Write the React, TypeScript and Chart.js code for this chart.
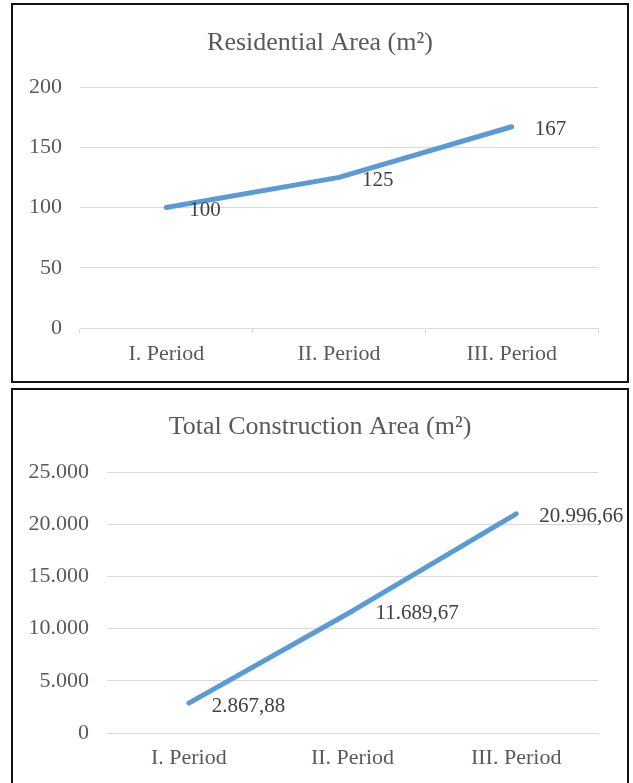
import React, { useEffect, useRef } from "react";
import { Chart, registerables } from "chart.js";

Chart.register(...registerables);

const periods = ["I. Period", "II. Period", "III. Period"];
const residentialArea = [100, 125, 167];
const residentialLabels = ["100", "125", "167"];
const constructionArea = [2867.88, 11689.67, 20996.66];
const constructionLabels = ["2.867,88", "11.689,67", "20.996,66"];

const FONT = "'Liberation Serif', 'Times New Roman', serif";
const LINE_COLOR = "#5B9BD5";
const GRID_COLOR = "#D9D9D9";
const TEXT_COLOR = "#595959";

// Writes each point's value to the right of the marker.
const valueLabels = {
  id: "valueLabels",
  afterDatasetsDraw(chart: any, _args: any, opts: any) {
    const { ctx } = chart;
    const meta = chart.getDatasetMeta(0);
    const labels: string[] = opts.labels || [];
    ctx.save();
    ctx.font = `21px ${FONT}`;
    ctx.fillStyle = "#404040";
    ctx.textAlign = "left";
    ctx.textBaseline = "middle";
    meta.data.forEach((pt: any, i: number) => {
      ctx.fillText(labels[i], pt.x + (opts.dx ?? 23), pt.y + (opts.dy ?? 2));
    });
    ctx.restore();
  },
};

// Chart heading centred across the whole canvas width.
const centeredTitle = {
  id: "centeredTitle",
  afterDraw(chart: any, _args: any, opts: any) {
    const { ctx, width } = chart;
    ctx.save();
    ctx.font = `26px ${FONT}`;
    ctx.fillStyle = TEXT_COLOR;
    ctx.textAlign = "center";
    ctx.textBaseline = "middle";
    ctx.fillText(opts.text, width / 2, opts.y);
    ctx.restore();
  },
};

type PanelProps = {
  title: string;
  titleY: number;
  values: number[];
  labels: string[];
  yMax: number;
  yStep: number;
  formatTick: (v: number) => string;
  width: number;
  height: number;
  plotTop: number;
  plotRight: number;
  yAxisWidth: number;
  xAxisHeight: number;
  xTickMarks: boolean;
  xLabelPad: number;
};

function LinePanel(p: PanelProps) {
  const ref = useRef<HTMLCanvasElement>(null);
  useEffect(() => {
    if (!ref.current) return;
    const chart = new Chart(ref.current, {
      type: "line",
      data: {
        labels: periods,
        datasets: [
          {
            data: p.values,
            borderColor: LINE_COLOR,
            borderWidth: 5,
            borderCapStyle: "round",
            borderJoinStyle: "round",
            pointRadius: 0,
            tension: 0,
            fill: false,
          },
        ],
      },
      options: {
        responsive: false,
        animation: false,
        layout: {
          padding: { left: 0, right: p.width - p.plotRight, top: p.plotTop, bottom: 0 },
        },
        plugins: {
          legend: { display: false },
          tooltip: { enabled: false },
          title: { display: false },
          centeredTitle: { text: p.title, y: p.titleY },
          valueLabels: { labels: p.labels, dx: 23, dy: 3 },
        } as any,
        scales: {
          x: {
            type: "category",
            offset: true,
            grid: {
              display: true,
              offset: true,
              drawOnChartArea: false,
              drawTicks: p.xTickMarks,
              tickLength: 5,
              color: GRID_COLOR,
              lineWidth: 1,
            },
            border: { display: true, color: GRID_COLOR, width: 1 },
            ticks: {
              color: TEXT_COLOR,
              font: { family: FONT, size: 22 },
              padding: p.xLabelPad,
              maxRotation: 0,
            },
            afterFit(scale: any) {
              scale.height = p.xAxisHeight;
            },
          },
          y: {
            min: 0,
            max: p.yMax,
            grid: { color: GRID_COLOR, lineWidth: 1, drawTicks: false },
            border: { display: false },
            ticks: {
              stepSize: p.yStep,
              color: TEXT_COLOR,
              font: { family: FONT, size: 22 },
              padding: 18,
              callback: (v: any) => p.formatTick(Number(v)),
            },
            afterFit(scale: any) {
              scale.width = p.yAxisWidth;
            },
          },
        },
      },
      plugins: [centeredTitle, valueLabels],
    });
    return () => chart.destroy();
  }, []);
  return <canvas ref={ref} width={p.width} height={p.height} style={{ display: "block" }} />;
}

const thousands = (v: number) =>
  v.toFixed(0).replace(/\B(?=(\d{3})+(?!\d))/g, ".");

const boxStyle: React.CSSProperties = {
  position: "absolute",
  left: 11,
  width: 618,
  boxSizing: "border-box",
  border: "2px solid #111",
  background: "#fff",
  overflow: "hidden",
};

export default function App() {
  return (
    <div
      style={{
        position: "absolute",
        left: 0,
        top: 0,
        width: 633,
        height: 783,
        background: "#fff",
        overflow: "hidden",
      }}
    >
      <div style={{ ...boxStyle, top: 3, height: 380 }}>
        <LinePanel
          title="Residential Area (m²)"
          titleY={38}
          values={residentialArea}
          labels={residentialLabels}
          yMax={200}
          yStep={50}
          formatTick={(v) => String(v)}
          width={614}
          height={376}
          plotTop={82}
          plotRight={585}
          yAxisWidth={67}
          xAxisHeight={53}
          xTickMarks={true}
          xLabelPad={8}
        />
      </div>
      <div style={{ ...boxStyle, top: 388, height: 400 }}>
        <LinePanel
          title="Total Construction Area (m²)"
          titleY={37}
          values={constructionArea}
          labels={constructionLabels}
          yMax={25000}
          yStep={5000}
          formatTick={thousands}
          width={614}
          height={393}
          plotTop={82}
          plotRight={585}
          yAxisWidth={94}
          xAxisHeight={50}
          xTickMarks={false}
          xLabelPad={12}
        />
      </div>
    </div>
  );
}
